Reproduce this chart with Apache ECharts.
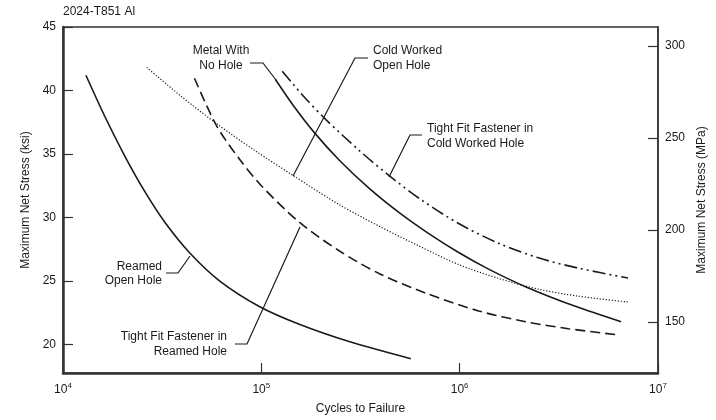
<!DOCTYPE html>
<html>
<head>
<meta charset="utf-8">
<script src="https://cdn.jsdelivr.net/npm/echarts@6.0.0/dist/echarts.min.js"></script>
<style>
html,body{margin:0;padding:0;background:#fff;}
#chart{width:716px;height:420px;}
</style>
</head>
<body>
<div id="chart"></div>
<script>
// ---- data (cycles, ksi) ----
const reamedOpenHole = [[13050,41.2],[16260,37.95],[20490,34.84],[25830,32.05],[32550,29.64],[43470,27.22],[61510,25.01],[97700,22.99],[155300,21.59],[276900,20.23],[567300,18.88]];
const tightFitReamedHole = [[46000,40.96],[59400,37.24],[77500,34.6],[100000,32.5],[155300,29.63],[246600,27.38],[391700,25.59],[674500,24.04],[1246000,22.64],[2146000,21.79],[3529000,21.24],[6081000,20.78]];
const coldWorkedOpenHole = [[26430,41.82],[38730,39.64],[59400,37.39],[92220,35.3],[143200,33.35],[246600,31.02],[391700,29.32],[622300,27.76],[988500,26.29],[1570000,25.2],[2494000,24.35],[3963000,23.8],[7060000,23.34]];
const metalNoHole = [[117600,40.89],[146500,38.72],[184600,36.7],[246600,34.53],[348900,32.31],[493700,30.4],[698700,28.73],[988500,27.24],[1399000,25.93],[2146000,24.55],[3828000,23.0],[6516000,21.79]];
const tightFitColdWorkedHole = [[127500,41.51],[164500,39.49],[212200,37.69],[310800,35.29],[439800,33.31],[644200,31.36],[988500,29.52],[1570000,27.97],[2494000,26.82],[3963000,26.01],[7060000,25.23]];

const ksiTicks = [20,25,30,35,40,45];
const mpaTicks = [150,200,250,300];
const xExponents = [4,5,6,7];
const KSI_TO_MPA = 6.894757;
const yMin = 17.75, yMax = 45;

const chart = echarts.init(document.getElementById('chart'), null, {renderer:'canvas'});
const ink = '#1a1a1a';
const font = '"Liberation Sans", Arial, sans-serif';

function lineSeries(name, data, type, dash) {
  return {
    name, type:'line', data, showSymbol:false, smooth:0.3,
    xAxisIndex:0, yAxisIndex:0, silent:true,
    lineStyle:{color:ink, width: type==='dotted'?1.2:1.6, type: dash}
  };
}

function txt(text, x, y, align) {
  return {type:'text', x, y, silent:true, style:{text, fill:ink, font:'12px ' + font, textAlign:align, textVerticalAlign:'middle'}};
}
function leader(points) {
  return {type:'polyline', silent:true, shape:{points}, style:{stroke:ink, lineWidth:1.2, fill:null}};
}

chart.setOption({
  animation:false,
  backgroundColor:'#fff',
  textStyle:{fontFamily:font},
  grid:{left:63, right:56, top:27, bottom:42, show:true, borderColor:'#333', borderWidth:1.5},
  xAxis:{
    type:'log', logBase:10, min:1e4, max:1e7,
    name:'Cycles to Failure', nameLocation:'middle', nameGap:30,
    nameTextStyle:{color:ink, fontSize:12, fontFamily:font},
    axisLine:{show:true, lineStyle:{color:'#333', width:2.5}},
    axisTick:{show:true, inside:true, length:10, lineStyle:{color:'#333', width:1.2}},
    minorTick:{show:false}, splitLine:{show:false}, minorSplitLine:{show:false},
    axisLabel:{
      color:ink, fontSize:12, margin:9,
      formatter:function(v){ const e = Math.round(Math.log10(v)); return xExponents.indexOf(e)>=0 ? '10{sup|' + e + '}' : ''; },
      rich:{sup:{fontSize:8, color:ink, padding:[0,0,7,0]}}
    }
  },
  yAxis:[{
    type:'value', min:yMin, max:yMax, position:'left',
    name:'Maximum Net Stress (ksi)', nameLocation:'middle', nameGap:30, nameRotate:90,
    nameTextStyle:{color:ink, fontSize:12, fontFamily:font},
    axisLine:{show:true, lineStyle:{color:'#333', width:2.5}},
    axisTick:{show:true, inside:true, length:10, customValues:ksiTicks, lineStyle:{color:'#333', width:1.2}},
    axisLabel:{color:ink, fontSize:12, margin:7, customValues:ksiTicks},
    splitLine:{show:false}
  },{
    type:'value', min:yMin*KSI_TO_MPA, max:yMax*KSI_TO_MPA, position:'right',
    name:'Maximum Net Stress (MPa)', nameLocation:'middle', nameGap:38, nameRotate:90,
    nameTextStyle:{color:ink, fontSize:12, fontFamily:font},
    axisLine:{show:true, lineStyle:{color:'#333', width:1.5}},
    axisTick:{show:true, inside:true, length:10, customValues:mpaTicks, lineStyle:{color:'#333', width:1.2}},
    axisLabel:{color:ink, fontSize:12, margin:7, customValues:mpaTicks},
    splitLine:{show:false}
  }],
  series:[
    lineSeries('Reamed Open Hole', reamedOpenHole, 'solid', 'solid'),
    lineSeries('Tight Fit Fastener in Reamed Hole', tightFitReamedHole, 'dashed', [10,5]),
    lineSeries('Cold Worked Open Hole', coldWorkedOpenHole, 'dotted', [1.2,1.8]),
    lineSeries('Metal With No Hole', metalNoHole, 'solid', 'solid'),
    lineSeries('Tight Fit Fastener in Cold Worked Hole', tightFitColdWorkedHole, 'dashdot', [13,4,2,4,2,4])
  ],
  graphic:[
    {type:'text', left:63, top:6, silent:true, style:{text:'2024-T851 Al', fill:ink, font:'12px ' + font}},
    txt('Metal With', 221, 51, 'center'),
    txt('No Hole', 221, 66, 'center'),
    leader([[250,63],[263,63],[276,80]]),
    txt('Cold Worked', 373, 51, 'left'),
    txt('Open Hole', 373, 66, 'left'),
    leader([[368,58],[355,58],[293,176]]),
    txt('Tight Fit Fastener in', 427, 129, 'left'),
    txt('Cold Worked Hole', 427, 144, 'left'),
    leader([[422,135],[410,135],[389,177]]),
    txt('Reamed', 162, 267, 'right'),
    txt('Open Hole', 162, 281, 'right'),
    leader([[166,273],[178,273],[190,256]]),
    txt('Tight Fit Fastener in', 227, 337, 'right'),
    txt('Reamed Hole', 227, 352, 'right'),
    leader([[235,344],[247,344],[300,227]])
  ]
});
</script>
</body>
</html>
